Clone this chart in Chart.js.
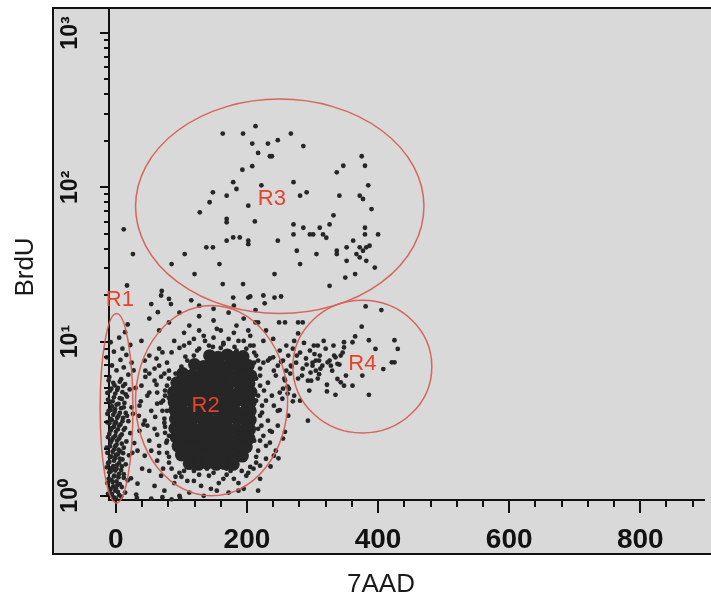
<!DOCTYPE html>
<html>
<head>
<meta charset="utf-8">
<title>BrdU / 7AAD</title>
<script src="https://cdn.jsdelivr.net/npm/chart.js@4.4.1/dist/chart.umd.min.js"></script>
<style>
  html, body { margin: 0; padding: 0; background: #fff; }
  #wrap { width: 711px; height: 600px; }
</style>
</head>
<body>
<div id="wrap"><canvas id="chart"></canvas></div>
<script>
// axis ranges (7AAD linear, BrdU log)
const X_MIN = -10.5, X_MAX = 898;
const Y_MIN = 0.94, Y_MAX = 1453;
const X_TITLE = "7AAD";
const Y_TITLE = "BrdU";
const SUP = ["\u2070", "\u00B9", "\u00B2", "\u00B3"];

// gates: centre (7AAD, BrdU), half-width in 7AAD units, half-height in decades
const gateNames = ["R1", "R2", "R3", "R4"];
const gateX = [1, 146, 250, 376];
const gateY = [3.7, 4.14, 75.3, 6.88];
const gateRx = [25, 116, 220, 106];
const gateRy = [0.614, 0.617, 0.695, 0.43];
const gateLabelX = [6, 137, 238, 376];
const gateLabelY = [18.7, 3.84, 83.6, 7.2];

// events [7AAD, BrdU]
const r1Points = [
  [18, 12.9], [14, 11.5], [5, 10.6], [-8, 9.9], [22, 9.5], [10, 9.0], [-3, 8.6], [16, 8.2], [-14, 7.9],
  [7, 7.6], [24, 7.3], [-6, 7.0], [12, 6.8], [1, 6.5], [-18, 6.3], [19, 6.1], [-10, 5.9], [8, 5.7],
  [-4, 5.4], [14, 5.3], [-15, 5.1], [3, 5.0], [21, 4.9], [-9, 4.8], [10, 4.7], [-1, 4.6], [-19, 4.5],
  [17, 4.4], [6, 4.3], [-12, 4.2], [-5, 4.1], [13, 4.0], [1, 3.9], [-16, 3.8], [24, 3.75], [8, 3.7],
  [-8, 3.6], [-2, 3.5], [15, 3.45], [-13, 3.4], [4, 3.3], [-20, 3.25], [11, 3.2], [-6, 3.1], [19, 3.05],
  [0, 3.0], [-10, 2.95], [7, 2.9], [-15, 2.85], [-3, 2.8], [14, 2.75], [3, 2.7], [-8, 2.65], [-18, 2.6],
  [22, 2.55], [9, 2.5], [-1, 2.45], [-12, 2.4], [5, 2.35], [-6, 2.3], [16, 2.25], [-16, 2.2], [1, 2.15],
  [-9, 2.1], [12, 2.05], [-3, 2.0], [-20, 1.97], [7, 1.94], [-13, 1.9], [3, 1.86], [20, 1.83], [-7, 1.8],
  [-1, 1.76], [10, 1.72], [-17, 1.69], [-10, 1.66], [5, 1.63], [15, 1.6], [-4, 1.56], [-14, 1.53],
  [1, 1.5], [8, 1.47], [-8, 1.44], [-19, 1.41], [12, 1.38], [-2, 1.35], [4, 1.32], [-11, 1.29],
  [18, 1.26], [-5, 1.23], [-15, 1.2], [2, 1.17], [9, 1.14], [-8, 1.11], [-1, 1.08], [14, 1.05],
  [-12, 1.03], [5, 1.01], [-4, 0.98], [0, 0.96], [-22, 1.15], [-21, 2.7], [-23, 1.6], [25, 1.9],
  [26, 3.4], [23, 1.3],
  [-11, 5.6], [6, 5.5], [-2, 5.2], [11, 5.15], [-7, 4.95], [2, 4.85], [-13, 4.65], [15, 4.55], [-3, 4.35],
  [9, 4.25], [-9, 4.05], [4, 3.95], [-6, 3.8], [12, 3.75], [-1, 3.65], [-11, 3.55], [6, 3.45], [-4, 3.35],
  [17, 3.3], [2, 3.2], [-8, 3.15], [10, 3.05], [-13, 3.0], [-2, 2.92], [5, 2.85], [-6, 2.75], [12, 2.68],
  [0, 2.6], [-10, 2.52], [7, 2.45], [-4, 2.38], [2, 2.28], [-8, 2.22], [9, 2.18], [-1, 2.1], [-14, 2.05],
  [4, 1.99], [-5, 1.93], [11, 1.89], [0, 1.84], [-9, 1.78], [6, 1.74], [-3, 1.69], [-12, 1.63], [2, 1.59],
  [9, 1.55], [-6, 1.51], [-1, 1.46], [-10, 1.42], [5, 1.39], [-3, 1.34], [12, 1.31], [-7, 1.27], [1, 1.24],
  [-13, 1.21], [6, 1.19], [-4, 1.15], [0, 1.12], [-9, 1.09], [3, 1.06], [-6, 1.03], [8, 0.99], [-2, 0.97],
  [-17, 1.0], [-16, 1.35], [-18, 2.4], [-17, 3.6]
];

const r2Core = [
  [143, 8.1], [156, 7.9], [170, 8.2], [183, 7.95], [194, 8.0],
  [120, 7.1], [134, 6.9], [147, 7.05], [161, 6.95], [176, 7.1], [188, 6.9], [202, 7.0],
  [102, 6.2], [116, 6.05], [131, 6.15], [144, 6.0], [157, 6.1], [170, 6.2], [185, 6.05], [198, 6.1], [206, 6.0],
  [93, 5.4], [107, 5.3], [120, 5.35], [135, 5.4], [148, 5.3], [162, 5.35], [175, 5.45], [189, 5.3], [203, 5.35],
  [88, 4.7], [102, 4.6], [117, 4.65], [130, 4.7], [144, 4.6], [156, 4.65], [171, 4.7], [185, 4.6], [197, 4.65], [206, 4.7],
  [89, 4.05], [103, 4.12], [116, 4.1], [131, 4.05], [143, 4.12], [158, 4.1], [170, 4.05], [184, 4.12], [198, 4.1], [205, 4.05],
  [90, 3.6], [102, 3.55], [117, 3.58], [129, 3.52], [144, 3.6], [157, 3.55], [172, 3.58], [183, 3.52], [199, 3.6], [205, 3.55],
  [91, 3.15], [104, 3.1], [116, 3.13], [131, 3.16], [142, 3.1], [158, 3.13], [170, 3.1], [185, 3.16], [197, 3.12], [205, 3.1],
  [90, 2.74], [103, 2.7], [118, 2.73], [130, 2.7], [145, 2.74], [156, 2.71], [171, 2.73], [184, 2.7], [198, 2.74], [204, 2.7],
  [92, 2.4], [104, 2.36], [117, 2.39], [131, 2.37], [143, 2.4], [158, 2.36], [170, 2.39], [186, 2.37], [197, 2.4], [203, 2.36],
  [95, 2.1], [107, 2.06], [121, 2.09], [133, 2.07], [147, 2.1], [160, 2.06], [174, 2.09], [187, 2.07], [199, 2.08],
  [100, 1.84], [113, 1.8], [127, 1.83], [140, 1.81], [154, 1.84], [167, 1.8], [180, 1.83], [193, 1.81],
  [112, 1.62], [126, 1.6], [139, 1.63], [153, 1.6], [166, 1.62], [179, 1.6]
];

const r2Points = [
  [51, 14.1], [66, 11.8], [81, 13.3], [97, 15.4], [112, 12.7], [127, 14.6], [134, 10.9], [149, 13.7],
  [160, 11.8], [172, 15.4], [184, 12.7], [195, 14.1], [205, 10.9], [217, 13.3], [229, 11.8], [89, 10.1],
  [104, 9.42], [119, 10.4], [142, 9.42], [164, 9.8], [187, 10.1], [210, 9.42], [225, 10.1], [240, 10.4],
  [250, 8.74], [66, 8.99], [51, 8.11], [39, 10.1], [180, 17.1], [149, 16.3], [127, 17.1], [115, 18.5],
  [44, 7.53], [51, 6.2], [39, 5.18], [59, 5.58], [66, 6.98], [74, 6.2], [48, 4.46], [63, 4.67], [78, 5.18],
  [36, 3.84], [54, 3.56], [69, 4.02], [81, 4.31], [44, 3.07], [59, 2.72], [74, 3.16], [51, 2.28], [66, 2.11],
  [81, 2.45], [44, 1.82], [63, 1.69], [78, 1.9], [51, 1.45], [69, 1.35], [85, 1.5], [59, 1.16], [74, 1.08],
  [89, 1.21], [36, 2.64], [33, 1.96],
  [97, 1.41], [109, 1.25], [119, 1.45], [130, 1.16], [142, 1.35], [154, 1.08], [164, 1.29], [175, 1.45],
  [187, 1.21], [199, 1.35], [210, 1.5], [220, 1.29], [112, 1.05], [134, 1.0], [172, 1.05], [195, 1.11],
  [97, 1.0], [217, 1.08],
  [214, 8.11], [225, 7.3], [235, 7.77], [247, 6.98], [220, 6.02], [232, 5.41], [244, 6.02], [255, 4.95],
  [217, 4.46], [229, 4.14], [241, 3.84], [254, 4.26], [220, 3.31], [232, 3.07], [247, 2.85], [225, 2.45],
  [235, 2.21], [217, 1.96], [229, 1.74], [244, 1.96], [255, 2.35], [263, 3.31], [260, 6.48], [214, 1.64],
  [240, 7.9], [252, 7.4], [258, 5.6], [262, 4.6], [250, 3.6], [258, 2.6], [238, 2.6], [248, 1.75],
  [236, 1.55], [262, 5.1], [270, 4.1], [268, 6.9],
  [127, 8.99], [119, 8.11], [109, 7.53], [100, 6.87], [91, 6.2], [81, 5.76], [148, 9.24], [164, 9.6],
  [181, 9.24], [199, 8.99], [211, 8.49], [217, 7.53], [75, 4.81], [72, 4.14], [71, 3.56], [74, 2.97],
  [75, 2.56], [77, 2.21], [81, 1.79], [220, 5.18], [223, 3.84], [222, 2.85], [220, 2.28], [214, 1.79],
  [104, 1.45], [127, 1.37], [149, 1.41], [169, 1.37], [192, 1.45], [205, 1.54],
  [30, 5.0], [35, 3.3], [28, 2.2], [40, 1.5], [33, 1.2], [38, 4.1], [27, 6.5], [42, 2.9], [31, 1.02], [45, 5.9],
  [32, 0.97], [54, 0.96], [71, 0.98], [85, 0.95], [98, 0.97],
  [62, 7.76], [71, 8.5], [78, 7.3], [59, 6.68], [69, 5.92], [81, 6.48], [62, 5.25], [75, 4.46], [63, 3.96],
  [78, 3.56], [60, 3.25], [75, 2.8], [63, 2.49], [78, 2.28], [66, 1.9], [81, 1.64], [72, 1.5], [91, 1.33],
  [51, 4.67], [48, 2.85], [54, 1.96], [45, 6.48],
  [85, 8.5], [97, 9.1], [112, 9.8], [124, 8.74], [136, 10.1], [149, 10.6], [160, 9.1], [172, 10.4],
  [184, 8.74], [195, 10.1], [205, 9.42], [104, 11.4], [127, 11.8], [154, 12.1], [180, 11.4], [202, 11.8],
  [145, 8.5], [169, 8.11], [106, 7.98],
  [211, 7.3], [220, 6.68], [232, 7.53], [214, 5.76], [226, 4.81], [238, 4.46], [214, 4.14], [223, 3.46],
  [235, 2.64], [217, 2.72], [229, 2.11], [211, 2.28], [241, 1.82], [220, 1.57], [247, 3.56], [250, 4.67],
  [241, 6.48], [255, 7.53],
  [100, 1.33], [119, 1.25], [139, 1.5], [157, 1.21], [180, 1.29], [202, 1.41], [109, 1.54], [169, 1.5],
  [145, 1.11], [187, 1.08]
];

const r3Points = [
  [163, 223], [194, 223], [213, 249], [267, 223], [208, 192], [232, 192], [247, 202], [286, 185],
  [217, 167], [235, 159], [238, 159], [193, 130], [208, 137], [179, 108], [184, 97.5], [148, 92.8],
  [169, 88.3], [143, 80], [128, 68.8], [222, 103], [271, 108], [281, 88.3], [291, 92.8], [202, 76],
  [212, 60.1], [169, 62.3], [169, 59.3], [169, 45.1], [179, 47.3], [189, 47.3], [202, 45.1], [202, 42.8],
  [138, 40.8], [148, 40.8], [247, 45.1], [271, 57.5], [271, 49.5], [286, 54.7], [296, 49.5], [301, 49.5],
  [311, 54.7], [316, 49.5], [321, 47.1], [326, 57.5], [332, 65.8], [337, 125], [347, 138], [341, 88.3],
  [372, 88.3], [377, 84], [390, 72.3], [375, 159], [380, 138], [385, 103], [380, 54.7], [380, 49.5],
  [400, 49.5], [362, 45.1], [352, 40.8], [337, 38.8], [337, 36.9], [306, 36.9], [276, 38.8], [281, 31.8],
  [372, 40.8], [382, 40.8], [387, 41.8], [377, 38.8], [367, 36.9], [372, 35.1], [352, 33.4], [382, 33.4],
  [395, 30.2], [365, 27.4], [350, 26.0], [326, 23.0], [242, 27.4], [194, 23.6], [163, 23.6], [158, 31.8],
  [120, 27.4], [105, 36.9], [85, 31.8], [26, 36.9], [242, 19.3], [202, 19.3], [179, 19.3], [70, 21.3],
  [12, 53.4], [17, 23.1]
];

const r4Points = [
  [381, 16.9], [405, 16.0], [375, 12.5], [365, 10.8], [348, 9.9], [348, 9.16], [361, 9.9], [386, 10.2],
  [396, 8.96], [425, 10.2], [430, 8.96], [421, 7.34], [425, 7.34], [408, 6.63], [376, 6.02], [351, 6.02],
  [338, 5.72], [343, 5.44], [348, 5.18], [361, 5.18], [322, 5.25], [322, 4.75], [335, 4.52], [386, 4.52],
  [293, 3.07], [338, 7.18], [328, 6.98], [323, 7.34], [333, 8.11], [343, 8.11], [308, 9.42], [303, 8.3],
  [310, 7.53], [300, 6.98], [310, 6.15], [298, 5.58], [295, 4.81]
];

// events between the gates
const gapPoints = [
  [263, 8.11], [270, 8.99], [275, 7.3], [281, 8.49], [285, 6.67], [290, 7.77], [296, 8.74], [300, 7.3],
  [305, 6.48], [311, 8.11], [315, 6.98], [320, 8.99], [326, 7.53], [330, 6.48], [335, 7.9], [341, 7.1],
  [346, 8.49], [266, 6.2], [278, 5.76], [293, 5.58], [308, 5.76], [272, 10.1], [287, 9.8], [302, 9.42],
  [317, 10.1], [332, 9.42], [278, 13.3], [285, 13.3], [258, 13.3], [249, 13.3], [213, 13.3], [205, 19.6],
  [213, 16.0], [278, 11.3], [225, 19.9], [227, 17.7], [252, 19.6], [69, 19.9], [81, 18.9], [54, 17.5],
  [84, 17.5], [64, 15.5],
  [260, 9.42], [267, 6.98], [276, 8.11], [284, 6.02], [291, 7.1], [297, 6.3], [305, 7.53], [312, 6.67],
  [257, 5.76], [264, 4.95], [272, 4.46], [281, 4.14]
];

const DOT = "#262626";
const GATE_COLOR = "rgba(212, 96, 86, 0.95)";
const LABEL_COLOR = "#e2442c";

function toXY(list) {
  return list.map((p) => ({ x: p[0], y: p[1] }));
}

function dotSet(label, list, radius) {
  return {
    label: label,
    data: toXY(list),
    pointRadius: radius,
    pointHoverRadius: radius,
    pointBackgroundColor: DOT,
    pointBorderWidth: 0,
    clip: false,
  };
}

function yLabel(value) {
  const e = Math.log10(value);
  const r = Math.round(e);
  if (Math.abs(e - r) < 1e-9 && r >= 0 && r < SUP.length) return "10" + SUP[r];
  return "";
}

const cytoFrame = {
  id: "cytoFrame",
  beforeDraw(chart) {
    const { ctx, chartArea } = chart;
    const left = chartArea.left - 56;
    const top = chartArea.top;
    const bottom = chartArea.bottom + 54;
    ctx.save();
    ctx.fillStyle = "#ffffff";
    ctx.fillRect(0, 0, chart.width, chart.height);
    ctx.fillStyle = "#d9d9d9";
    ctx.fillRect(left, top, chart.width, bottom - top);
    ctx.strokeStyle = "#111";
    ctx.lineWidth = 2;
    ctx.strokeRect(left, top, chart.width, bottom - top);
    ctx.restore();
  },
  afterDraw(chart) {
    const { ctx, chartArea } = chart;
    const xs = chart.scales.x;
    const ys = chart.scales.y;
    ctx.save();

    // tick marks
    ctx.strokeStyle = "#111";
    ctx.lineWidth = 2;
    xs.ticks.forEach((t) => {
      if (t.value < 0 || t.value % 40 !== 0) return;
      const px = Math.round(xs.getPixelForValue(t.value));
      const len = t.value % 200 === 0 ? 13 : 7;
      ctx.beginPath();
      ctx.moveTo(px, chartArea.bottom);
      ctx.lineTo(px, chartArea.bottom + len);
      ctx.stroke();
    });
    ys.ticks.forEach((t) => {
      const e = Math.floor(Math.log10(t.value) + 1e-9);
      const m = t.value / Math.pow(10, e);
      if (Math.abs(m - Math.round(m)) > 1e-6) return;
      const py = Math.round(ys.getPixelForValue(t.value));
      const len = Math.round(m) === 1 ? 9 : 5;
      ctx.beginPath();
      ctx.moveTo(chartArea.left, py);
      ctx.lineTo(chartArea.left - len, py);
      ctx.stroke();
    });

    // gates
    ctx.strokeStyle = GATE_COLOR;
    ctx.lineWidth = 1.5;
    gateNames.forEach((name, i) => {
      const cx = xs.getPixelForValue(gateX[i]);
      const cy = ys.getPixelForValue(gateY[i]);
      const rx = xs.getPixelForValue(gateX[i] + gateRx[i]) - cx;
      const ry = cy - ys.getPixelForValue(gateY[i] * Math.pow(10, gateRy[i]));
      ctx.beginPath();
      ctx.ellipse(cx, cy, rx, ry, 0, 0, Math.PI * 2);
      ctx.stroke();
    });
    ctx.fillStyle = LABEL_COLOR;
    ctx.font = '22px "Liberation Sans", Arial, sans-serif';
    ctx.textAlign = "center";
    ctx.textBaseline = "middle";
    gateNames.forEach((name, i) => {
      ctx.fillText(name, xs.getPixelForValue(gateLabelX[i]), ys.getPixelForValue(gateLabelY[i]));
    });

    // axis titles
    ctx.fillStyle = "#1a1a1a";
    ctx.font = '26px "Liberation Sans", Arial, sans-serif';
    ctx.textBaseline = "alphabetic";
    ctx.fillText(X_TITLE, chartArea.left + 272, chartArea.bottom + 92);
    ctx.translate(33, chartArea.top + 259);
    ctx.rotate(-Math.PI / 2);
    ctx.fillText(Y_TITLE, 0, 0);
    ctx.restore();
  },
};

new Chart(document.getElementById("chart").getContext("2d"), {
  type: "scatter",
  data: {
    datasets: [
      dotSet("R2 core", r2Core, 6.5),
      dotSet("R1", r1Points, 2.4),
      dotSet("R2", r2Points, 2.4),
      dotSet("R3", r3Points, 2.4),
      dotSet("R4", r4Points, 2.4),
      dotSet("other", gapPoints, 2.4),
    ],
  },
  options: {
    responsive: true,
    maintainAspectRatio: false,
    animation: false,
    events: [],
    layout: { padding: { top: 8, left: 0, right: 0, bottom: 0 } },
    plugins: {
      legend: { display: false },
      tooltip: { enabled: false },
    },
    scales: {
      x: {
        type: "linear",
        min: X_MIN,
        max: X_MAX,
        grid: { display: false },
        border: { display: true, color: "#111", width: 2 },
        ticks: {
          stepSize: 40,
          includeBounds: false,
          autoSkip: false,
          minRotation: 0,
          maxRotation: 0,
          padding: 15,
          color: "#111",
          font: { family: "Liberation Sans", size: 28, weight: "bold" },
          callback: (v) => (v >= 0 && v % 200 === 0 ? String(v) : ""),
        },
        afterFit: (scale) => {
          scale.height = 100;
          scale.paddingLeft = 0;
          scale.paddingRight = 0;
        },
      },
      y: {
        type: "logarithmic",
        min: Y_MIN,
        max: Y_MAX,
        grid: { display: false },
        border: { display: true, color: "#111", width: 2 },
        ticks: {
          autoSkip: false,
          minRotation: 90,
          maxRotation: 90,
          crossAlign: "center",
          padding: 14,
          color: "#111",
          font: { family: "Liberation Sans", size: 23, weight: "bold" },
          callback: (v) => yLabel(v),
        },
        afterFit: (scale) => {
          scale.width = 109;
          scale.paddingTop = 0;
          scale.paddingBottom = 0;
        },
      },
    },
  },
  plugins: [cytoFrame],
});
</script>
</body>
</html>
